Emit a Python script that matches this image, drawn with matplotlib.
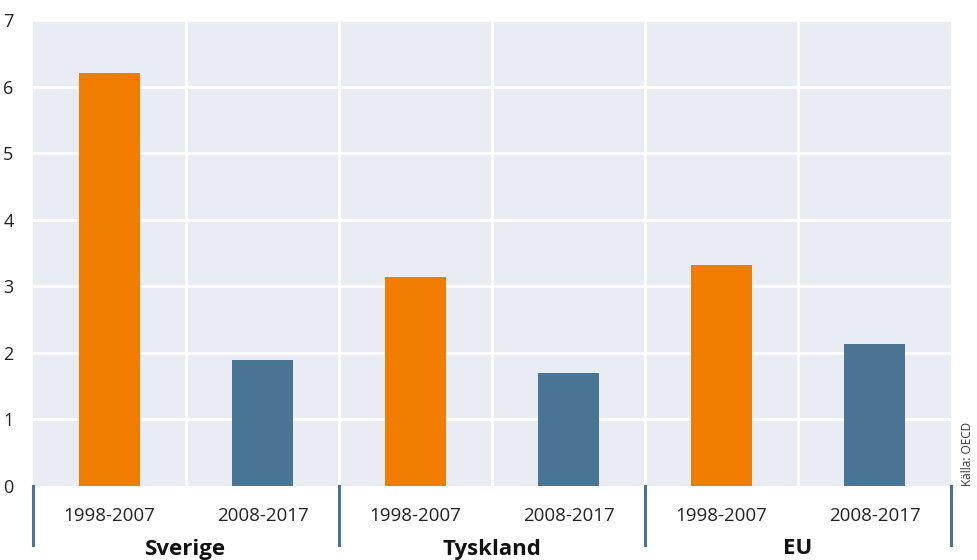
import matplotlib
matplotlib.use("Agg")
import matplotlib.pyplot as plt
import matplotlib.transforms as mtransforms

# Data
groups = ["Sverige", "Tyskland", "EU"]
periods = ["1998-2007", "2008-2017"]
values = {
    "Sverige": [6.2, 1.9],
    "Tyskland": [3.14, 1.7],
    "EU": [3.32, 2.14],
}
yticks = [0, 1, 2, 3, 4, 5, 6, 7]
source = "Källa: OECD"

period_colors = ["#F07D00", "#4A7494"]
bg = "#EAECF4"
sep_color = "#4A7494"

plt.rcParams["font.family"] = ["Open Sans", "DejaVu Sans"]

fig = plt.figure(figsize=(9.77, 5.6), dpi=100)
ax = fig.add_axes([33 / 977, 1 - 486 / 560, (951 - 33) / 977, (486 - 20) / 560])
ax.set_facecolor(bg)

xs, heights, colors, labels = [], [], [], []
for gi, g in enumerate(groups):
    for pi, p in enumerate(periods):
        xs.append(gi * len(periods) + pi)
        heights.append(values[g][pi])
        colors.append(period_colors[pi])
        labels.append(p)

ax.bar(xs, heights, width=0.4, color=colors, zorder=3)

n = len(xs)
ax.set_xlim(-0.5, n - 0.5)
ax.set_ylim(0, 7)
ax.set_yticks(yticks)
ax.set_yticklabels([str(t) for t in yticks], fontsize=13)

# white grid lines
for y in yticks[1:]:
    ax.axhline(y, color="white", lw=2, zorder=1)
for x in range(n - 1):
    ax.axvline(x + 0.5, color="white", lw=2, zorder=1)

for s in ax.spines.values():
    s.set_visible(False)
ax.tick_params(axis="y", length=0, pad=14, labelcolor="#222222")
ax.tick_params(axis="x", length=0)
ax.set_xticks(xs)
ax.set_xticklabels(labels, fontsize=13.5, color="#222222")
ax.tick_params(axis="x", pad=15)

# group separators and group labels below the axis
trans = mtransforms.blended_transform_factory(ax.transData, ax.transAxes)
sep_bottom = -(545 - 486) / 466
for k in range(len(groups) + 1):
    xb = k * len(periods) - 0.5
    ax.plot([xb, xb], [0, sep_bottom], color=sep_color, lw=2.2,
            transform=trans, clip_on=False, zorder=4)
for gi, g in enumerate(groups):
    xc = gi * len(periods) + (len(periods) - 1) / 2
    ax.text(xc, -(549 - 486) / 466, g, transform=trans, ha="center",
            va="center", fontsize=16, fontweight="bold", color="#111111")

fig.text(0.990, 1 - 486 / 560, source, rotation=90, ha="center",
         va="bottom", fontsize=8.5, color="#333333")

fig.savefig("out.png", dpi=100, facecolor="white")
